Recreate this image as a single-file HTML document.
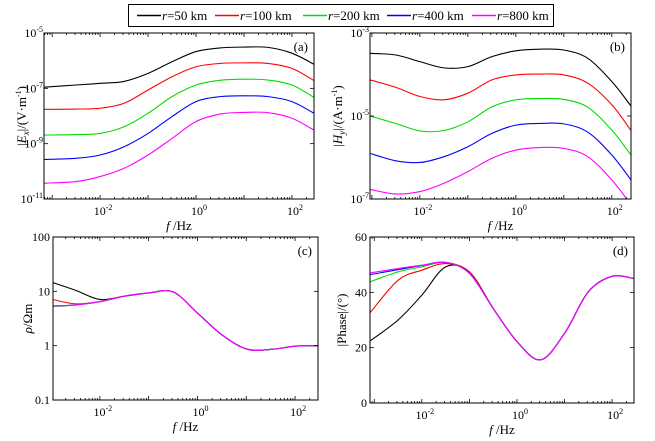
<!DOCTYPE html>
<html><head><meta charset="utf-8">
<style>
html,body{margin:0;padding:0;background:#fff;}
svg{display:block;font-family:"Liberation Serif",serif;}
</style></head>
<body>
<svg id="fig" width="655" height="441" viewBox="0 0 655 441">
  <g id="legend">
    <rect x="128.5" y="4.5" width="425" height="22" fill="#fff" stroke="#000" stroke-width="1"/>
  </g>
</svg>
<script>
// ---- data (log10 f grids and series) ----
const seriesNames = ["r=50 km","r=100 km","r=200 km","r=400 km","r=800 km"];
const seriesColors = ["#000000","#ff0000","#00dd00","#0000ff","#ff00ff"];

const fA = [-3.17,-2.5,-2,-1.5,-1,-0.5,0,0.5,1,1.5,2,2.46];
const exBlack = [-6.96,-6.88,-6.82,-6.75,-6.46,-6.04,-5.67,-5.54,-5.51,-5.52,-5.73,-6.13];
const exRed = [-7.76,-7.75,-7.72,-7.54,-7.06,-6.58,-6.22,-6.10,-6.08,-6.10,-6.28,-6.72];
const exGreen = [-8.69,-8.67,-8.63,-8.39,-7.90,-7.30,-6.88,-6.71,-6.67,-6.70,-6.88,-7.33];
const exBlue = [-9.57,-9.53,-9.41,-9.11,-8.63,-8.02,-7.48,-7.30,-7.27,-7.30,-7.48,-7.90];
const exMagenta = [-10.43,-10.37,-10.19,-9.89,-9.41,-8.81,-8.20,-7.93,-7.87,-7.88,-8.08,-8.51];

const fB = [-3.04,-2.5,-2,-1.5,-1,-0.5,0,0.5,1,1.5,2,2.4];
const hyBlack = [-3.49,-3.53,-3.69,-3.84,-3.81,-3.57,-3.43,-3.39,-3.41,-3.61,-4.17,-4.76];
const hyRed = [-4.13,-4.31,-4.53,-4.61,-4.45,-4.13,-4.01,-3.99,-4.01,-4.21,-4.73,-5.35];
const hyGreen = [-5.00,-5.18,-5.36,-5.35,-5.14,-4.78,-4.61,-4.58,-4.60,-4.79,-5.34,-5.94];
const hyBlue = [-5.90,-6.08,-6.12,-5.98,-5.74,-5.42,-5.22,-5.18,-5.19,-5.39,-5.94,-6.54];
const hyMagenta = [-6.77,-6.88,-6.82,-6.62,-6.34,-6.02,-5.82,-5.76,-5.78,-5.98,-6.54,-7.14];

const fC = [-2.96,-2.5,-2,-1.5,-1,-0.5,0,0.5,1,1.5,2,2.47];
const rhoBlack = [1.16,1.02,0.85,0.91,0.97,0.99,0.60,0.20,-0.06,-0.07,-0.01,0.0];
const rhoRed = [0.85,0.77,0.81,0.91,0.97,0.99,0.60,0.20,-0.06,-0.07,-0.01,0.0];
const rhoGreen = [0.72,0.75,0.81,0.91,0.97,0.99,0.60,0.20,-0.06,-0.07,-0.01,0.0];
const rhoBlue = [0.73,0.75,0.81,0.91,0.97,0.99,0.60,0.20,-0.06,-0.07,-0.01,0.0];
const rhoMagenta = [0.73,0.75,0.81,0.91,0.97,0.99,0.60,0.20,-0.06,-0.07,-0.01,0.0];

const fD = [-3.09,-2.5,-2,-1.5,-1,-0.5,0,0.5,1,1.5,2,2.46];
const phBlack = [22.4,30.0,39.0,49.2,47.4,34.2,22.2,15.6,25.2,40.2,45.8,45.0];
const phRed = [32.6,44.4,48.0,50.4,47.4,34.2,22.2,15.6,25.2,40.2,45.8,45.0];
const phGreen = [43.8,47.4,49.2,50.8,47.0,34.2,22.2,15.6,25.2,40.2,45.8,45.0];
const phBlue = [46.4,48.2,49.7,50.8,46.9,34.2,22.2,15.6,25.2,40.2,45.8,45.0];
const phMagenta = [47.0,48.6,49.8,50.8,46.8,34.2,22.2,15.6,25.2,40.2,45.8,45.0];

const yTicksA = [-11,-9,-7,-5];
const yTicksB = [-7,-5,-3];
const yTicksC = [-1,0,1,2];
const yTickLabelsC = ["0.1","1","10","100"];
const yTicksD = [0,20,40,60];
const xTicks = [-2,0,2];

const NS = "http://www.w3.org/2000/svg";
const svg = document.getElementById('fig');
function mk(tag, attrs, parent){
  const e = document.createElementNS(NS, tag);
  for (const k in attrs) e.setAttribute(k, attrs[k]);
  (parent||svg).appendChild(e);
  return e;
}
function smoothPath(pts){
  let d = "M"+pts[0][0].toFixed(2)+","+pts[0][1].toFixed(2);
  for (let i=0;i<pts.length-1;i++){
    const p0=pts[Math.max(0,i-1)], p1=pts[i], p2=pts[i+1], p3=pts[Math.min(pts.length-1,i+2)];
    const c1=[p1[0]+(p2[0]-p0[0])/6, p1[1]+(p2[1]-p0[1])/6];
    const c2=[p2[0]-(p3[0]-p1[0])/6, p2[1]-(p3[1]-p1[1])/6];
    d+=" C"+c1[0].toFixed(2)+","+c1[1].toFixed(2)+" "+c2[0].toFixed(2)+","+c2[1].toFixed(2)+" "+p2[0].toFixed(2)+","+p2[1].toFixed(2);
  }
  return d;
}

function panel(cfg){
  const g = mk('g', {});
  
  
  const L=cfg.box[0], T=cfg.box[1], R=cfg.box[2], B=cfg.box[3];
  const xs = v => L + (v - cfg.xdom[0])/(cfg.xdom[1]-cfg.xdom[0])*(R-L);
  const ys = v => B - (v - cfg.ydom[0])/(cfg.ydom[1]-cfg.ydom[0])*(B-T);
  const cid = 'clip-'+cfg.name;
  const cp = mk('clipPath', {id:cid}, g);
  mk('rect', {x:L, y:T, width:R-L, height:B-T}, cp);
  cfg.series.forEach((s,i)=>{
    const pts = cfg.fx.map((f,j)=>[xs(f), ys(s[j])]);
    const p = mk('path', {d:smoothPath(pts), fill:'none', stroke:seriesColors[i], 'stroke-width':1.1, 'clip-path':'url(#'+cid+')'}, g);
    
    
  });
  const fr = mk('rect', {x:L, y:T, width:R-L, height:B-T, fill:'none', stroke:'#000', 'stroke-width':1}, g);
  
  
  for (let dec=Math.floor(cfg.xdom[0]); dec<=Math.ceil(cfg.xdom[1]); dec++){
    for (let m=1;m<10;m++){
      const v = dec + Math.log10(m);
      if (v<cfg.xdom[0]||v>cfg.xdom[1]) continue;
      const x = xs(v), len = m===1?4:2;
      mk('line',{x1:x,x2:x,y1:B,y2:B-len,stroke:'#000','stroke-width':0.8},g);
      mk('line',{x1:x,x2:x,y1:T,y2:T+len,stroke:'#000','stroke-width':0.8},g);
    }
  }
  xTicks.forEach(v=>{
    const t = mk('text',{x:xs(v)+3,y:B+16,'font-size':12,'text-anchor':'middle'},g);
    
    
    t.appendChild(document.createTextNode('10'));
    const sp = mk('tspan',{dy:-5,'font-size':8},t); sp.textContent = String(v);
  });
  const xt = mk('text',{x:(L+R)/2,y:B+31,'font-size':13,'text-anchor':'middle'},g);
  
  
  const fi = mk('tspan',{'font-style':'italic'},xt); fi.textContent='f ';
  const hz = mk('tspan',{},xt); hz.textContent='/Hz';
  cfg.yticks.forEach((v,i)=>{
    const y = ys(v);
    mk('line',{x1:L,x2:L+4,y1:y,y2:y,stroke:'#000','stroke-width':0.8},g);
    mk('line',{x1:R,x2:R-4,y1:y,y2:y,stroke:'#000','stroke-width':0.8},g);
    const t = mk('text',{x:L-3,y:y+4,'font-size':12,'text-anchor':'end'},g);
    
    
    if (cfg.ylog){
      t.setAttribute('x', L-1);
      t.appendChild(document.createTextNode('10'));
      const sp = mk('tspan',{dy:-5,'font-size':8},t); sp.textContent=String(v);
    } else {
      t.textContent = cfg.ylabels ? cfg.ylabels[i] : String(v);
    }
  });
  if (cfg.yminor){
    for (let dec=Math.floor(cfg.ydom[0]); dec<cfg.ydom[1]; dec++){
      for (let m=2;m<10;m++){
        const y = ys(dec+Math.log10(m));
        mk('line',{x1:L,x2:L+2,y1:y,y2:y,stroke:'#000','stroke-width':0.6},g);
      }
    }
  }
  const yt = mk('text',{transform:'translate('+cfg.ytx+','+((T+B)/2)+') rotate(-90)','font-size':13,'text-anchor':'middle'},g);
  
  
  yt.innerHTML = cfg.ytitle;
  const pl = mk('text',{x:R-6,y:T+18,'font-size':13,'text-anchor':'end'},g);
  
  
  pl.textContent = cfg.letter;
}

panel({name:'panel-a', box:[44,33,314,199], xdom:[-3.17,2.46], ydom:[-11,-5], fx:fA,
  series:[exBlack,exRed,exGreen,exBlue,exMagenta], yticks:yTicksA, ylog:true, ytx:26, letter:'(a)',
  ytitle:'|<tspan font-style="italic">E</tspan><tspan font-style="italic" font-size="9" dy="3">x</tspan><tspan dy="-3">|/(V·m</tspan><tspan font-size="8" dy="-5">-1</tspan><tspan dy="5">)</tspan>'});
panel({name:'panel-b', box:[370,33,631,199], xdom:[-3.04,2.4], ydom:[-7,-3], fx:fB,
  series:[hyBlack,hyRed,hyGreen,hyBlue,hyMagenta], yticks:yTicksB, ylog:true, ytx:342, letter:'(b)',
  ytitle:'|<tspan font-style="italic">H</tspan><tspan font-style="italic" font-size="9" dy="3">y</tspan><tspan dy="-3">|/(A·m</tspan><tspan font-size="8" dy="-5">-1</tspan><tspan dy="5">)</tspan>'});
panel({name:'panel-c', box:[53,237,318,400], xdom:[-2.96,2.47], ydom:[-1,2], fx:fC,
  series:[rhoBlack,rhoRed,rhoGreen,rhoBlue,rhoMagenta], yticks:yTicksC, ylabels:yTickLabelsC, ylog:false, ytx:32, letter:'(c)',
  ytitle:'<tspan font-style="italic">ρ</tspan>/Ωm'});
panel({name:'panel-d', box:[370,237,634,403], xdom:[-3.09,2.46], ydom:[0,60], fx:fD,
  series:[phBlack,phRed,phGreen,phBlue,phMagenta], yticks:yTicksD, ylog:false, ytx:346, letter:'(d)',
  ytitle:'|Phase|/(°)'});

const legX = [137,215,303,387,472];
const legend = document.getElementById('legend');
seriesNames.forEach((n,i)=>{
  const ln = mk('line',{x1:legX[i],x2:legX[i]+24,y1:15.5,y2:15.5,stroke:seriesColors[i],'stroke-width':1.4},legend);
  
  
  const t = mk('text',{x:legX[i]+25,y:20,'font-size':13},legend);
  
  
  const r = mk('tspan',{'font-style':'italic'},t); r.textContent='r';
  const rest = mk('tspan',{},t); rest.textContent=n.slice(1);
});
</script>
</body></html>
